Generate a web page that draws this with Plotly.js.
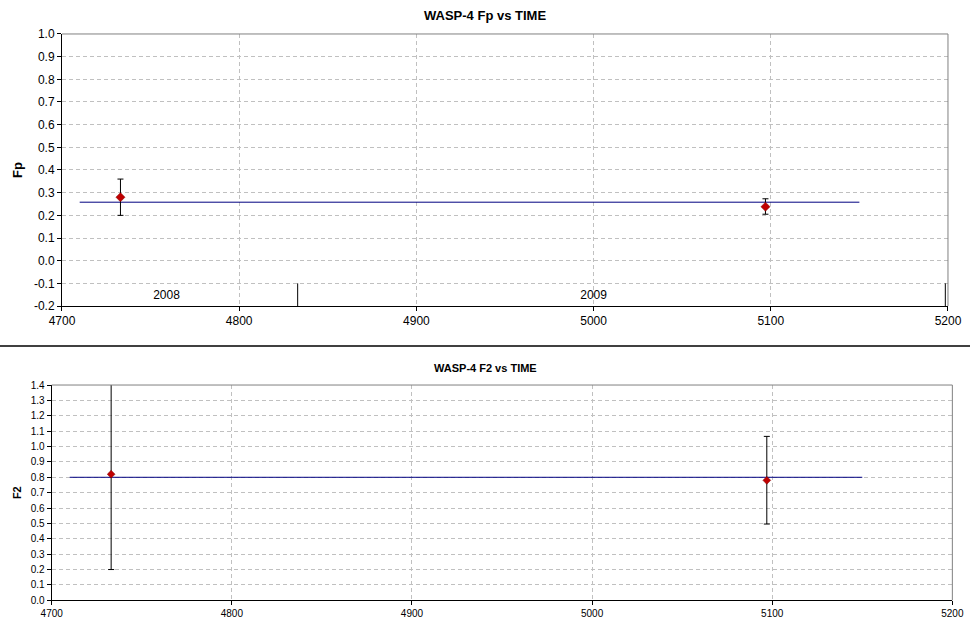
<!DOCTYPE html>
<html><head><meta charset="utf-8">
<script src="https://cdn.plot.ly/plotly-3.0.1.min.js"></script>
<style>html,body{margin:0;padding:0;background:#fff;}#chart{width:970px;height:628px;}</style>
</head><body><div id="chart"></div>
<script>
// Top panel (Fp)
const fpTime = [4733, 5097];
const fpValue = [0.28, 0.238];
const fpErrPlus = [0.08, 0.035];
const fpErrMinus = [0.08, 0.033];
const fpFitX = [4710, 5150];
const fpFitY = [0.258, 0.258];
const yearMarkX = [4833, 5198.5];
const yearMarkY = [-0.2, -0.1];
const yearLabels = ['2008', '2009'];
const yearLabelX = [4759, 5000];
const yearLabelY = [-0.155, -0.155];
// Bottom panel (F2)
const f2Time = [4733, 5097];
const f2Value = [0.82, 0.78];
const f2ErrPlus = [0.60, 0.286];
const f2ErrMinus = [0.62, 0.284];
const f2FitX = [4710, 5150];
const f2FitY = [0.80, 0.80];
// Tick labels
const xTicks = [4700, 4800, 4900, 5000, 5100, 5200];
const fpTicks = [-0.2,-0.1,0.0,0.1,0.2,0.3,0.4,0.5,0.6,0.7,0.8,0.9,1.0];
const f2Ticks = [0.0,0.1,0.2,0.3,0.4,0.5,0.6,0.7,0.8,0.9,1.0,1.1,1.2,1.3,1.4];

const FONT = 'Arial, "Liberation Sans", sans-serif';
const fmt = v => v.toFixed(1).replace('\u2212','-');

const traces = [];
yearMarkX.forEach(x => traces.push({x:[x,x], y:yearMarkY, mode:'lines', line:{color:'#000', width:1}, xaxis:'x', yaxis:'y', hoverinfo:'skip'}));
traces.push({x:yearLabelX, y:yearLabelY, text:yearLabels, mode:'text', textfont:{family:FONT, size:12, color:'#000'}, xaxis:'x', yaxis:'y'});
traces.push({x:fpFitX, y:fpFitY, mode:'lines', line:{color:'#000080', width:1}, xaxis:'x', yaxis:'y'});
traces.push({x:fpTime, y:fpValue, mode:'markers', cliponaxis:false,
  marker:{symbol:'diamond', size:7, color:'#c00000', line:{color:'#800000', width:0.5}},
  error_y:{type:'data', symmetric:false, array:fpErrPlus, arrayminus:fpErrMinus, color:'#000', thickness:1, width:3},
  xaxis:'x', yaxis:'y'});
traces.push({x:f2FitX, y:f2FitY, mode:'lines', line:{color:'#000080', width:1}, xaxis:'x2', yaxis:'y2'});
traces.push({x:f2Time, y:f2Value, mode:'markers', cliponaxis:false,
  marker:{symbol:'diamond', size:6, color:'#c00000', line:{color:'#800000', width:0.5}},
  error_y:{type:'data', symmetric:false, array:f2ErrPlus, arrayminus:f2ErrMinus, color:'#000', thickness:1, width:3},
  xaxis:'x2', yaxis:'y2'});

const gridCommon = {showgrid:true, gridcolor:'#c0c0c0', griddash:'4px,3px', gridwidth:1, zeroline:false,
  showline:true, linecolor:'#000', linewidth:1, ticks:'outside', ticklen:4, tickcolor:'#000'};

const layout = {
  width:970, height:628, margin:{l:0,r:0,t:0,b:0}, showlegend:false,
  paper_bgcolor:'#fff', plot_bgcolor:'#fff', font:{family:FONT, color:'#000'},
  xaxis: Object.assign({}, gridCommon, {domain:[0.0639,0.9773], range:[4700,5200], tickvals:xTicks, ticktext:xTicks.map(String), tickfont:{size:12}, anchor:'y'}),
  yaxis: Object.assign({}, gridCommon, {domain:[0.5127,0.9459], range:[-0.2,1.0], tickvals:fpTicks, ticktext:fpTicks.map(fmt), tickfont:{size:12}, anchor:'x',
    title:{text:'<b>Fp</b>', font:{size:13}, standoff:8}}),
  xaxis2: Object.assign({}, gridCommon, {domain:[0.0533,0.9818], range:[4700,5200], tickvals:xTicks, ticktext:xTicks.map(String), tickfont:{size:10}, anchor:'y2'}),
  yaxis2: Object.assign({}, gridCommon, {domain:[0.0441,0.3869], range:[0,1.4], tickvals:f2Ticks, ticktext:f2Ticks.map(fmt), tickfont:{size:10}, anchor:'x2',
    title:{text:'<b>F2</b>', font:{size:11}, standoff:6}}),
  annotations:[
    {text:'<b>WASP-4 Fp vs TIME</b>', xref:'paper', yref:'paper', x:0.5, y:1-15/628, showarrow:false, font:{size:13}, xanchor:'center', yanchor:'middle'},
    {text:'<b>WASP-4 F2 vs TIME</b>', xref:'paper', yref:'paper', x:0.5, y:1-368/628, showarrow:false, font:{size:11}, xanchor:'center', yanchor:'middle'}
  ],
  shapes:[
    {type:'line', xref:'paper', yref:'paper', x0:0.0639, x1:0.9773, y0:0.9459, y1:0.9459, line:{color:'#808080', width:1}},
    {type:'line', xref:'paper', yref:'paper', x0:0.9773, x1:0.9773, y0:0.5127, y1:0.9459, line:{color:'#808080', width:1}},
    {type:'line', xref:'paper', yref:'paper', x0:0.0533, x1:0.9818, y0:0.3869, y1:0.3869, line:{color:'#808080', width:1}},
    {type:'line', xref:'paper', yref:'paper', x0:0.9818, x1:0.9818, y0:0.0441, y1:0.3869, line:{color:'#808080', width:1}},
    {type:'line', xref:'paper', yref:'paper', x0:0, x1:1, y0:1-346/628, y1:1-346/628, line:{color:'#000', width:1.5}}
  ]
};
Plotly.newPlot('chart', traces, layout, {displayModeBar:false, staticPlot:true});
</script></body></html>
